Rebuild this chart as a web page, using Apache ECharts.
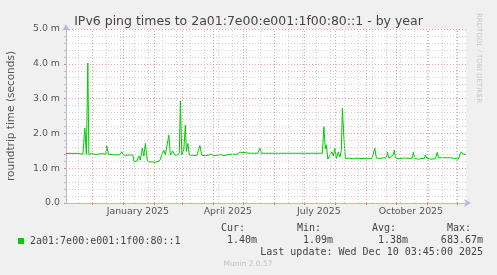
<!DOCTYPE html>
<html>
<head>
<meta charset="utf-8">
<script src="https://cdn.jsdelivr.net/npm/echarts@6/dist/echarts.min.js"></script>
<style>
html,body{margin:0;padding:0;background:#f0f0f0;}
#c{width:497px;height:275px;}
</style>
</head>
<body>
<div id="c"></div>
<script>
// ---- data (milliseconds) ----
const seriesName = '2a01:7e00:e001:1f00:80::1';
const times = [
 '2024-11-05 04:00','2024-11-07','2024-11-09','2024-11-12','2024-11-16','2024-11-17','2024-11-22','2024-11-24','2024-11-25 12:00','2024-11-27',
 '2024-11-28','2024-12-01','2024-12-02','2024-12-04','2024-12-07','2024-12-09','2024-12-11','2024-12-12','2024-12-15','2024-12-16',
 '2024-12-17 12:00','2024-12-21','2024-12-24','2024-12-29','2024-12-31','2025-01-01 12:00','2025-01-05','2025-01-08','2025-01-11','2025-01-12',
 '2025-01-15','2025-01-17','2025-01-18 12:00','2025-01-20 12:00','2025-01-22','2025-01-23 12:00','2025-01-25 12:00','2025-01-28','2025-01-31','2025-02-03',
 '2025-02-05','2025-02-07','2025-02-09','2025-02-11','2025-02-12 12:00','2025-02-14','2025-02-16','2025-02-17 12:00','2025-02-20','2025-02-22',
 '2025-02-25','2025-02-26 12:00','2025-02-27 12:00','2025-03-01','2025-03-03','2025-03-04 12:00','2025-03-05 12:00','2025-03-07','2025-03-08 12:00','2025-03-12',
 '2025-03-16','2025-03-19','2025-03-21','2025-03-25','2025-03-30 12:00','2025-04-02','2025-04-09 12:00','2025-04-12','2025-04-18','2025-04-21',
 '2025-04-23','2025-04-25','2025-04-28','2025-04-30','2025-05-08 12:00','2025-05-10','2025-05-12','2025-05-16','2025-05-18','2025-05-19 12:00',
 '2025-06-02','2025-06-03 12:00','2025-06-05 12:00','2025-07-08','2025-07-09','2025-07-11','2025-07-19 12:00','2025-07-21','2025-07-22 12:00','2025-07-23 12:00',
 '2025-07-25','2025-07-27','2025-07-29','2025-07-30 12:00','2025-08-01','2025-08-02 12:00','2025-08-04 12:00','2025-08-06','2025-08-07 12:00','2025-08-08 12:00',
 '2025-08-10','2025-08-11 12:00','2025-08-13','2025-08-16','2025-08-19','2025-08-22','2025-08-26','2025-08-30','2025-09-03','2025-09-07',
 '2025-09-08 12:00','2025-09-10','2025-09-11 12:00','2025-09-15','2025-09-19','2025-09-21 12:00','2025-09-22 12:00','2025-09-24','2025-09-26 12:00','2025-09-28 12:00',
 '2025-09-29 12:00','2025-09-30 12:00','2025-10-03 12:00','2025-10-05','2025-10-08 12:00','2025-10-11 12:00','2025-10-15','2025-10-17 12:00','2025-10-18 12:00','2025-10-20',
 '2025-10-23 12:00','2025-10-26 12:00','2025-10-29 12:00','2025-10-30 12:00','2025-11-01','2025-11-04 12:00','2025-11-09 12:00','2025-11-11 12:00','2025-11-12 12:00','2025-11-25',
 '2025-11-25 12:00','2025-12-02 12:00','2025-12-04','2025-12-05 12:00','2025-12-07 12:00','2025-12-10 03:00'
];
const values = [
 1.42,1.40,1.43,1.42,1.43,1.39,1.40,2.15,1.40,4.02,
 1.40,1.42,1.44,1.40,1.40,1.39,1.42,1.40,1.40,1.64,
 1.40,1.39,1.38,1.39,1.47,1.38,1.37,1.38,1.38,1.20,
 1.20,1.35,1.23,1.58,1.35,1.71,1.22,1.18,1.18,1.17,
 1.17,1.22,1.38,1.52,1.38,1.43,1.95,1.38,1.49,1.38,
 1.38,1.45,2.93,1.38,1.55,2.24,1.48,1.71,1.38,1.37,
 1.36,1.65,1.37,1.36,1.40,1.36,1.39,1.36,1.40,1.40,
 1.36,1.40,1.46,1.43,1.43,1.46,1.43,1.43,1.58,1.43,
 1.43,1.38,1.43,1.43,1.48,1.43,1.43,2.19,1.55,1.67,
 1.26,1.26,1.47,1.35,1.57,1.28,1.47,1.32,1.50,2.72,
 1.90,1.28,1.27,1.29,1.27,1.29,1.28,1.28,1.27,1.28,
 1.30,1.57,1.29,1.28,1.30,1.29,1.46,1.29,1.33,1.40,
 1.52,1.30,1.27,1.30,1.29,1.29,1.28,1.29,1.46,1.28,
 1.26,1.28,1.28,1.38,1.29,1.26,1.27,1.46,1.30,1.30,
 1.26,1.26,1.38,1.47,1.40,1.40
];
const axisStart = '2024-11-05 03:45';
const axisEnd = '2025-12-10 03:45';
const monthStarts = ['2024-12-01','2025-01-01','2025-02-01','2025-03-01','2025-04-01','2025-05-01','2025-06-01','2025-07-01','2025-08-01','2025-09-01','2025-10-01','2025-11-01','2025-12-01'];
const minorDates = ['2024-11-17','2024-12-15','2024-12-29','2025-01-12','2025-01-26','2025-02-09','2025-02-23','2025-03-09','2025-03-23','2025-04-06','2025-04-20','2025-05-04','2025-05-18','2025-06-01','2025-06-15','2025-06-29','2025-07-13','2025-07-27','2025-08-10','2025-08-24','2025-09-07','2025-09-21','2025-10-05','2025-10-19','2025-11-02','2025-11-16','2025-11-30'];
const xLabelDates = ['2025-01-16','2025-04-16','2025-07-16','2025-10-16'];
const xLabels = ['January 2025','April 2025','July 2025','October 2025'];
const statHeads = ['Cur:','Min:','Avg:','Max:'];
const statVals = ['1.40m','1.09m','1.38m','683.67m'];
const chartTitle = 'IPv6 ping times to 2a01:7e00:e001:1f00:80::1 - by year';
const yName = 'roundtrip time (seconds)';
const lastUpdate = 'Last update: Wed Dec 10 03:45:00 2025';
const footer = 'Munin 2.0.57';
const sideText = 'RRDTOOL / TOBI OETIKER';

const ts = s => echarts.time.parse(s).getTime();
const labelMap = {};
xLabelDates.forEach((d, i) => { labelMap[ts(d)] = xLabels[i]; });

const chart = echarts.init(document.getElementById('c'), null, {renderer: 'canvas'});
const mono = '"DejaVu Sans Mono", monospace';
const sans = '"DejaVu Sans", sans-serif';

const statX = [221, 297, 372, 447];
const statValX = [257, 333, 408, 483];
const graphics = [];
statHeads.forEach((h, i) => graphics.push({type: 'text', x: statX[i], y: 228,
  style: {text: h, font: '10px ' + mono, fill: '#444', align: 'left', verticalAlign: 'middle'}}));
statVals.forEach((v, i) => graphics.push({type: 'text', x: statValX[i], y: 240,
  style: {text: v, font: '10px ' + mono, fill: '#444', align: 'right', verticalAlign: 'middle'}}));
graphics.push({type: 'text', x: 483, y: 252, style: {text: lastUpdate, font: '10px ' + mono, fill: '#444', align: 'right', verticalAlign: 'middle'}});
graphics.push({type: 'text', x: 248, y: 264, style: {text: footer, font: '7.5px ' + sans, fill: '#c0c0c0', align: 'center', verticalAlign: 'middle'}});
graphics.push({type: 'text', x: 479, y: 58, rotation: -Math.PI / 2, style: {text: sideText, font: '7px ' + sans, fill: '#c8c8c8', align: 'center', verticalAlign: 'middle'}});

chart.setOption({
  backgroundColor: '#f0f0f0',
  animation: false,
  title: {text: chartTitle, left: 'center', top: 10, textStyle: {fontFamily: sans, fontSize: 12.5, fontWeight: 'normal', color: '#444'}},
  legend: {left: 13, top: 231, icon: 'rect', itemWidth: 6, itemHeight: 6, itemGap: 4,
    textStyle: {fontFamily: mono, fontSize: 10, color: '#444', padding: [0, 0, 0, 1]},
    data: [seriesName]},
  grid: {left: 66, right: 31, top: 29, bottom: 72, show: true, backgroundColor: '#ffffff', borderWidth: 0, outerBoundsMode: 'none', containLabel: false},
  xAxis: {
    type: 'value', min: ts(axisStart), max: ts(axisEnd),
    axisLine: {lineStyle: {color: '#b8b8e0', width: 1}, symbol: ['none', 'arrow'], symbolSize: [6, 7], symbolOffset: [0, 5]},
    axisTick: {show: true, customValues: monthStarts.map(ts), length: 2, lineStyle: {color: '#e08080'}},
    axisLabel: {customValues: xLabelDates.map(ts), formatter: v => labelMap[v] || '', fontFamily: sans, fontSize: 9.4, color: '#555', margin: 4},
    splitLine: {show: false}
  },
  yAxis: {
    type: 'value', min: 0, max: 5, interval: 1,
    name: yName, nameLocation: 'middle', nameRotate: 90, nameGap: 49,
    nameTextStyle: {fontFamily: sans, fontSize: 10.5, color: '#555'},
    axisLine: {show: true, lineStyle: {color: '#b8b8e0'}, symbol: ['none', 'arrow'], symbolSize: [6, 7], symbolOffset: [0, 5]},
    axisTick: {show: true, length: 2, lineStyle: {color: '#e08080'}},
    minorTick: {show: true, splitNumber: 5, length: 2, lineStyle: {color: '#c0c0c0'}},
    axisLabel: {formatter: v => v === 0 ? '0.0' : v.toFixed(1) + ' m', fontFamily: sans, fontSize: 9.4, color: '#555', margin: 6},
    splitLine: {show: true, lineStyle: {color: '#e8a0a0', type: [1, 2], width: 1}},
    minorSplitLine: {show: true, lineStyle: {color: '#d0d0d0', type: [1, 2], width: 1}}
  },
  graphic: graphics,
  series: [
    {type: 'line', name: '_grid', data: [], silent: true, z: 1,
      markLine: {silent: true, symbol: 'none', label: {show: false},
        data: minorDates.map(d => ({xAxis: ts(d), lineStyle: {color: '#d0d0d0', type: [1, 2], width: 1}}))
          .concat(monthStarts.map(d => ({xAxis: ts(d), lineStyle: {color: '#e8a0a0', type: [1, 2], width: 1}})))}},
    {type: 'line', name: seriesName, data: times.map((t, i) => [ts(t), values[i]]), showSymbol: false, symbol: 'none',
      z: 3, lineStyle: {color: '#00cc00', width: 1}, itemStyle: {color: '#00cc00'}}
  ]
});
</script>
</body>
</html>
